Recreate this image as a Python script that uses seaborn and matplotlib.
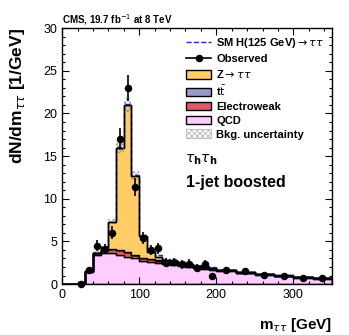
import numpy as np
import pandas as pd
import seaborn as sns
import matplotlib
matplotlib.use('Agg')
import matplotlib.pyplot as plt
from matplotlib.patches import Patch
from matplotlib.lines import Line2D
from matplotlib.ticker import MultipleLocator

# bin edges: 10 GeV up to 200, then 25 GeV
edges = list(range(0, 201, 10)) + [225, 250, 275, 300, 325, 350]

# stacked backgrounds, dN/dm per bin
qcd = [0, 0, 0, 1.4, 3.4, 3.6, 3.6, 3.4, 3.2, 3.0, 2.7, 2.6, 2.5, 2.3, 2.2, 2.1, 2.0, 1.9, 1.8, 1.7,
       1.5, 1.25, 1.1, 0.9, 0.75, 0.65]
ewk = [0, 0, 0, 0.1, 0.2, 0.4, 0.5, 0.55, 0.55, 0.45, 0.3, 0.3, 0.25, 0.2, 0.2, 0.2, 0.15, 0.15, 0.15, 0.15,
       0.12, 0.1, 0.08, 0.07, 0.06, 0.05]
ttbar = [0, 0, 0, 0, 0, 0, 0, 0, 0, 0, 0.02, 0.05, 0.08, 0.08, 0.06, 0.05, 0.05, 0.04, 0.04, 0.04,
         0.03, 0.03, 0.02, 0.02, 0.02, 0.02]
ztt = [0, 0, 0, 0.05, 0.1, 0.3, 3.2, 12.05, 17.25, 9.25, 2.6, 0.8, 0.4, 0.25, 0.2, 0.15, 0.1, 0.08, 0.06, 0.05,
       0.04, 0.03, 0.02, 0.02, 0.01, 0.01]
higgs = [0, 0, 0, 0, 0, 0, 0, 0.02, 0.05, 0.1, 0.15, 0.18, 0.2, 0.15, 0.1, 0.06, 0.04, 0.03, 0.02, 0.02,
         0.01, 0.01, 0, 0, 0, 0]
unc_frac = 0.04

# observed data points
obs = [np.nan, np.nan, 0.05, 1.6, 4.5, 4.1, 6.0, 17.0, 23.0, 11.4, 5.4, 4.0, 4.2, 2.5, 2.6, 2.3, 2.4, 1.9, 2.3, 1.0,
       1.6, 1.5, 1.1, 0.9, 0.7, 0.7]
obs_err = [0, 0, 0.1, 0.4, 0.65, 0.6, 0.75, 1.3, 1.5, 1.05, 0.7, 0.6, 0.65, 0.5, 0.5, 0.48, 0.5, 0.44, 0.48, 0.32,
           0.25, 0.25, 0.2, 0.19, 0.17, 0.17]

edge_arr = np.array(edges, dtype=float)
centers = 0.5 * (edge_arr[:-1] + edge_arr[1:])
widths = np.diff(edge_arr)

procs = ['Z', 'tt', 'EW', 'QCD']
colors = {'Z': '#ffcc66', 'tt': '#9999cc', 'EW': '#de5a6a', 'QCD': '#ffccff'}
frames = []
for name, vals in zip(procs, [ztt, ttbar, ewk, qcd]):
    frames.append(pd.DataFrame({'m': centers, 'w': vals, 'proc': name}))
df = pd.concat(frames, ignore_index=True)

plt.rcParams['font.family'] = ['Liberation Sans', 'DejaVu Sans']
plt.rcParams['mathtext.fontset'] = 'dejavusans'
plt.rcParams['hatch.color'] = '#888888'
plt.rcParams['hatch.linewidth'] = 0.5

fig = plt.figure(figsize=(3.49, 3.35), dpi=100)
ax = fig.add_axes([0.178, 0.152, 0.773, 0.764])

sns.histplot(data=df, x='m', weights='w', hue='proc', hue_order=procs, palette=colors,
             bins=list(edges), multiple='stack', element='step', fill=True, alpha=1,
             edgecolor='black', linewidth=1.0, legend=False, ax=ax)

total = np.array(ztt) + np.array(ttbar) + np.array(ewk) + np.array(qcd)
unc = total * unc_frac
ax.bar(centers, 2 * unc, width=widths, bottom=total - unc, facecolor='none',
       edgecolor='#888888', hatch='xxxxxx', linewidth=0)
ax.stairs(total + np.array(higgs), edge_arr, color='#1f1fdd', linestyle='--', linewidth=1.0)
ax.stairs(total, edge_arr, color='black', linewidth=1.0)

ax.errorbar(centers, obs, yerr=obs_err, fmt='o', color='black', ms=4.4,
            elinewidth=1.2, capsize=0, clip_on=False, zorder=10)

ax.set_xlim(0, 350)
ax.set_ylim(0, 30)
ax.xaxis.set_major_locator(MultipleLocator(100))
ax.xaxis.set_minor_locator(MultipleLocator(20))
ax.yaxis.set_major_locator(MultipleLocator(5))
ax.yaxis.set_minor_locator(MultipleLocator(1))
ax.tick_params(which='both', direction='in', top=True, right=True, labelsize=9, width=0.8)
ax.tick_params(which='major', length=5)
ax.tick_params(which='minor', length=2.5)
for s in ax.spines.values():
    s.set_linewidth(1.0)

ax.set_xlabel(r'm$_{\tau\tau}$ [GeV]', fontsize=11, fontweight='bold', loc='right', labelpad=11)
ax.set_ylabel(r'dN/dm$_{\tau\tau}$ [1/GeV]', fontsize=12.5, fontweight='bold', loc='top', labelpad=12)
ax.set_title(r'CMS, 19.7 fb$^{-1}$ at 8 TeV', fontsize=7, fontweight='bold', loc='left', pad=3)

handles = [
    Line2D([], [], color='#1f1fdd', linestyle='--', lw=1.0),
    Line2D([], [], color='black', marker='o', ms=4.4, lw=1.2),
    Patch(facecolor=colors['Z'], edgecolor='black', lw=1.0),
    Patch(facecolor=colors['tt'], edgecolor='black', lw=1.0),
    Patch(facecolor=colors['EW'], edgecolor='black', lw=1.0),
    Patch(facecolor=colors['QCD'], edgecolor='black', lw=1.0),
    Patch(facecolor='white', edgecolor='#aaaaaa', hatch='xxxxxx', lw=0.5),
]
labels = [r'SM H(125 GeV)$\rightarrow\tau\tau$', 'Observed', r'Z$\rightarrow\tau\tau$',
          r't$\bar{\mathrm{t}}$', 'Electroweak', 'QCD', 'Bkg. uncertainty']
leg = ax.legend(handles, labels, loc='upper left', bbox_to_anchor=(0.442, 0.985), frameon=False,
                prop={'size': 8, 'weight': 'bold'}, handlelength=2.3, handleheight=0.85,
                labelspacing=0.33, borderaxespad=0, handletextpad=0.45)

ax.text(0.455, 0.484, r'$\tau_{\mathbf{h}}\tau_{\mathbf{h}}$', transform=ax.transAxes,
        fontsize=10, va='center')
ax.text(0.46, 0.395, '1-jet boosted', transform=ax.transAxes, fontsize=11.5,
        fontweight='bold', va='center')

fig.savefig('out.png', dpi=100)
